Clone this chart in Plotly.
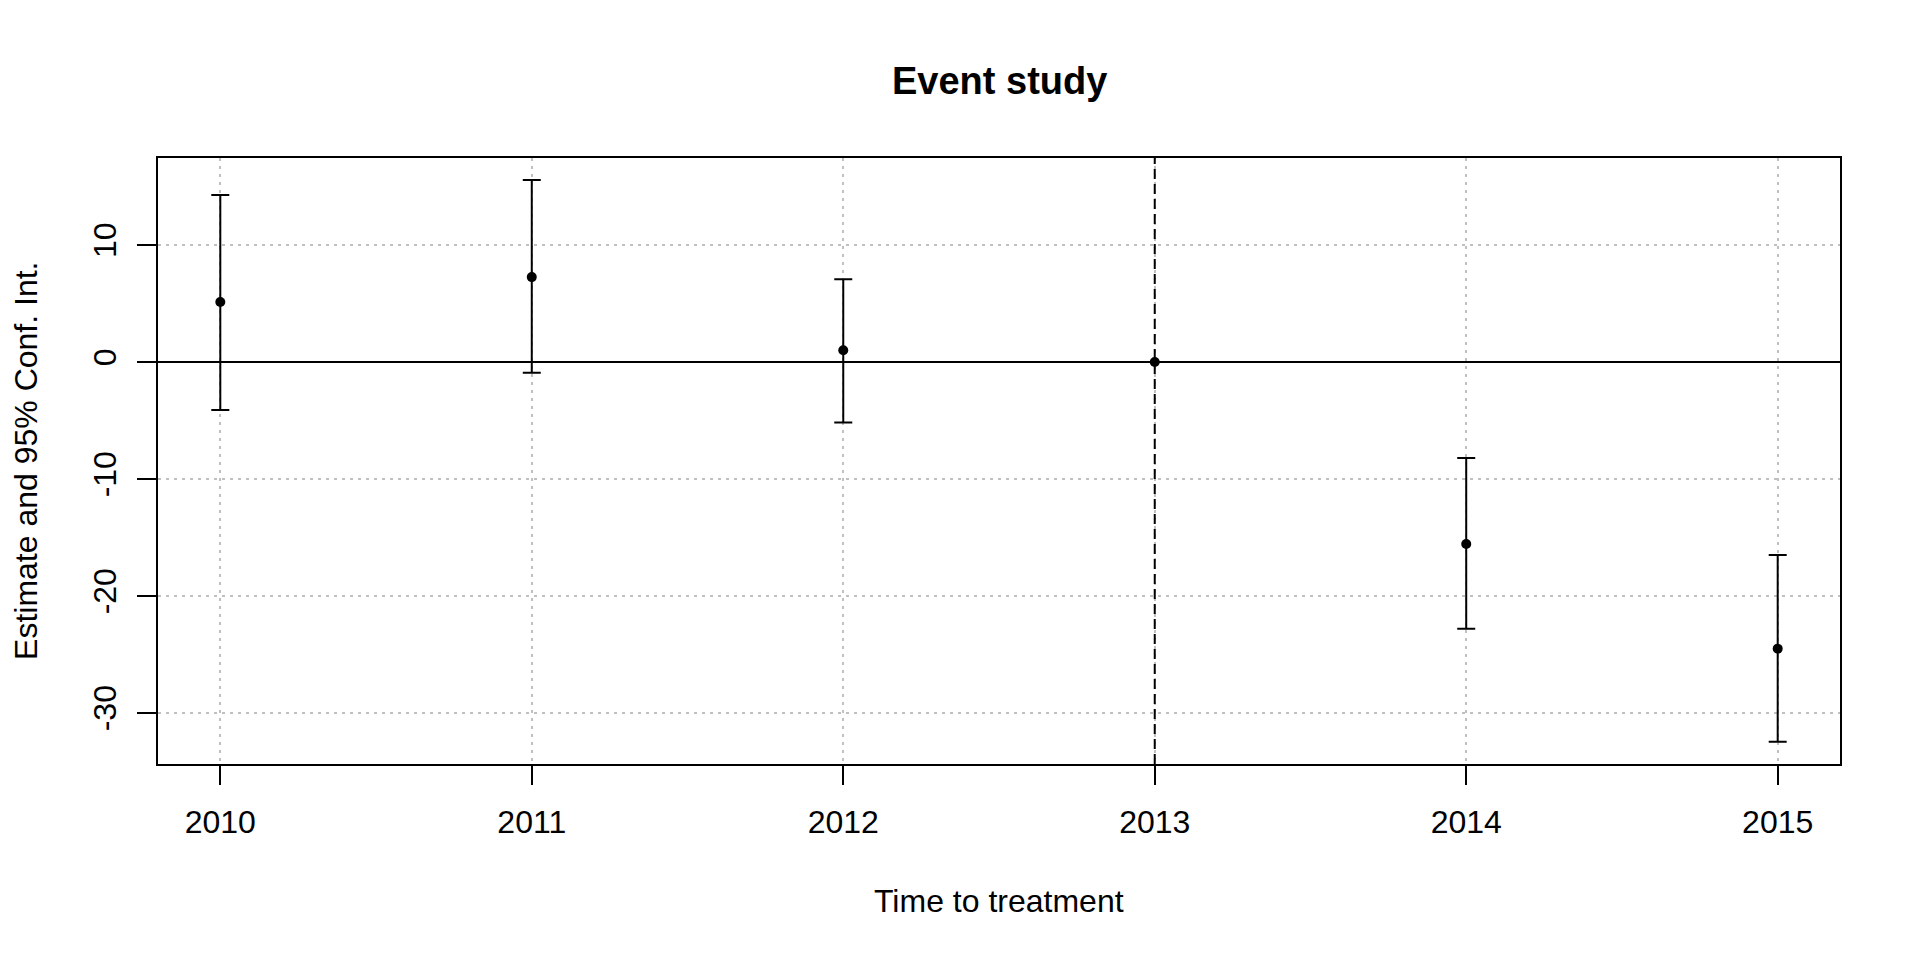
import plotly.graph_objects as go

years = [2010, 2011, 2012, 2013, 2014, 2015]
estimate = [5.13, 7.26, 1.0, 0.0, -15.56, -24.5]
ci_low = [-4.10, -0.91, -5.17, None, -22.8, -32.45]
ci_high = [14.27, 15.56, 7.08, None, -8.2, -16.5]
ytick_vals = [-30, -20, -10, 0, 10]
ytick_text = ["-30", "-20", "-10", "0", "10"]
ref_year = 2013

FONT = "Liberation Sans, Arial, sans-serif"

ci_x = [y for y, lo in zip(years, ci_low) if lo is not None]
ci_est = [e for e, lo in zip(estimate, ci_low) if lo is not None]
ci_plus = [hi - e for e, lo, hi in zip(estimate, ci_low, ci_high) if lo is not None]
ci_minus = [e - lo for e, lo in zip(estimate, ci_low) if lo is not None]
pt_x = [y for y, lo in zip(years, ci_low) if lo is None]
pt_est = [e for e, lo in zip(estimate, ci_low) if lo is None]

fig = go.Figure()
fig.add_trace(go.Scatter(
    x=ci_x, y=ci_est, mode="markers",
    marker=dict(size=10, color="black"),
    error_y=dict(type="data", symmetric=False, array=ci_plus, arrayminus=ci_minus,
                 color="black", thickness=2, width=9),
    showlegend=False, hoverinfo="x+y",
))
fig.add_trace(go.Scatter(
    x=pt_x, y=pt_est, mode="markers",
    marker=dict(size=10, color="black"),
    showlegend=False, hoverinfo="x+y",
))

fig.add_shape(type="line", xref="paper", yref="y", x0=0, x1=1, y0=0, y1=0,
              line=dict(color="black", width=2), layer="above")
fig.add_shape(type="line", xref="x", yref="paper", x0=ref_year, x1=ref_year, y0=0, y1=1,
              line=dict(color="black", width=2, dash="10px,5px"), layer="above")

axis_common = dict(
    showline=True, linecolor="black", linewidth=2, mirror=True,
    ticks="outside", ticklen=19, tickwidth=2, tickcolor="black",
    showgrid=True, gridcolor="#c0c0c0", gridwidth=2, griddash="3px,5px",
    tickfont=dict(family=FONT, size=32, color="black"),
)

fig.update_xaxes(range=[2009.8, 2015.2], tickvals=years, ticktext=[str(y) for y in years],
                 ticklabelstandoff=10, zeroline=False, **axis_common)
fig.update_yaxes(range=[-34.36, 17.44], tickvals=ytick_vals, ticktext=ytick_text,
                 tickangle=-90, ticklabelstandoff=8,
                 zeroline=True, zerolinecolor="black", zerolinewidth=2, **axis_common)

fig.add_annotation(text="<b>Event study</b>", xref="paper", yref="paper",
                   x=0.5, y=1.127, xanchor="center", yanchor="middle", showarrow=False,
                   font=dict(family=FONT, size=38, color="black"))
fig.add_annotation(text="Time to treatment", xref="paper", yref="paper",
                   x=0.5, y=-0.226, xanchor="center", yanchor="middle", showarrow=False,
                   font=dict(family=FONT, size=32, color="black"))
fig.add_annotation(text="Estimate and 95% Conf. Int.", xref="paper", yref="paper",
                   x=-0.0785, y=0.5, xanchor="center", yanchor="middle", textangle=-90,
                   showarrow=False, font=dict(family=FONT, size=32, color="black"))

fig.update_layout(
    width=1920, height=960,
    margin=dict(l=150, r=88, t=150, b=204),
    plot_bgcolor="white", paper_bgcolor="white",
    font=dict(family=FONT, color="black"),
)

fig.write_html("out.html")
